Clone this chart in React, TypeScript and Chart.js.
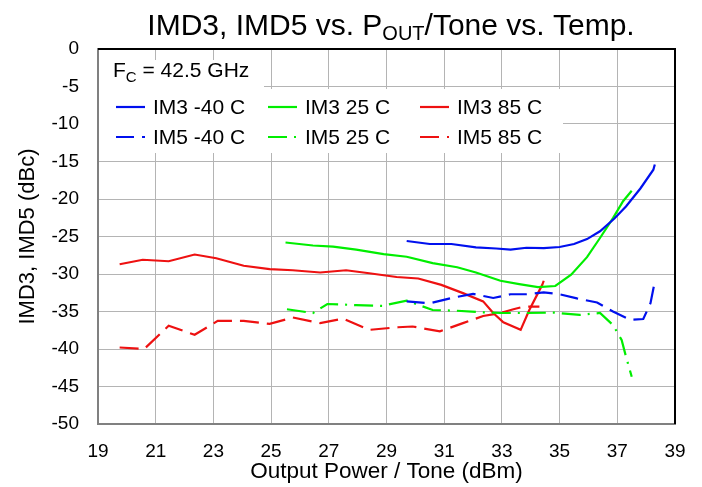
import React, { useEffect, useRef } from 'react';
import { Chart, registerables } from 'chart.js';

Chart.register(...registerables);

const FONT = '"Liberation Sans", Arial, Helvetica, sans-serif';

// ---- data ----
const im3M40X = [29.7, 30.5, 31.25, 32.1, 32.8, 33.3, 33.85, 34.45, 35.0, 35.5, 35.95, 36.4, 36.9, 37.3, 37.8, 38.25, 38.3];
const im3M40Y = [-25.6, -26.0, -26.0, -26.45, -26.6, -26.75, -26.5, -26.55, -26.4, -26.0, -25.35, -24.3, -22.6, -21.0, -18.6, -16.1, -15.4];

const im5M40X = [29.7, 30.5, 31.25, 32.0, 32.7, 33.3, 33.85, 34.45, 35.0, 35.6, 36.3, 36.85, 37.45, 37.9, 38.15, 38.3];
const im5M40Y = [-33.65, -33.9, -33.2, -32.65, -33.2, -32.7, -32.7, -32.45, -32.7, -33.25, -33.8, -35.0, -36.1, -36.0, -33.9, -31.0];

const im3_25X = [25.5, 26.45, 27.15, 27.95, 28.9, 29.7, 30.6, 31.45, 32.1, 32.95, 33.6, 34.25, 34.85, 35.4, 35.95, 36.4, 36.85, 37.2, 37.5];
const im3_25Y = [-25.8, -26.2, -26.35, -26.75, -27.35, -27.7, -28.55, -29.1, -29.8, -30.9, -31.35, -31.75, -31.6, -30.1, -27.75, -25.2, -22.55, -20.3, -18.9];

const im5_25X = [25.55, 26.45, 26.95, 27.95, 28.85, 29.7, 30.6, 31.45, 32.25, 32.95, 33.85, 34.8, 35.7, 36.4, 36.85, 37.15, 37.3, 37.5];
const im5_25Y = [-34.7, -35.2, -34.0, -34.15, -34.25, -33.55, -34.8, -34.9, -35.1, -35.2, -35.2, -35.15, -35.45, -35.2, -36.8, -38.8, -41.0, -43.7];

const im3_85X = [19.75, 20.55, 21.45, 22.35, 23.1, 24.05, 24.95, 25.75, 26.7, 27.6, 28.4, 29.35, 30.1, 30.9, 31.65, 32.35, 32.7, 33.05, 33.65, 33.95, 34.25, 34.4, 34.45];
const im3_85Y = [-28.7, -28.1, -28.3, -27.4, -27.9, -28.9, -29.35, -29.5, -29.8, -29.5, -29.9, -30.4, -30.6, -31.45, -32.55, -33.65, -35.2, -36.45, -37.45, -34.8, -32.55, -31.45, -30.9];

const im5_85X = [19.75, 20.6, 21.45, 22.35, 23.15, 24.05, 24.95, 25.75, 26.7, 27.5, 28.4, 29.4, 29.9, 30.85, 31.65, 32.35, 32.95, 33.4, 33.75, 34.3];
const im5_85Y = [-39.8, -40.0, -36.9, -38.1, -36.25, -36.25, -36.65, -35.8, -36.55, -35.95, -37.45, -37.1, -37.0, -37.65, -36.55, -35.6, -35.2, -34.7, -34.35, -34.35];

const seriesLabels = ['IM3 -40 C', 'IM5 -40 C', 'IM3 25 C', 'IM5 25 C', 'IM3 85 C', 'IM5 85 C'];

const xMin = 19, xMax = 39, xStep = 2;
const yMin = -50, yMax = 0, yStep = 5;

const titleMain = 'IMD3, IMD5 vs. P';
const titleSub = 'OUT';
const titleRest = '/Tone vs. Temp.';
const xTitle = 'Output Power / Tone (dBm)';
const yTitle = 'IMD3, IMD5 (dBc)';
const fcMain = 'F';
const fcSub = 'C';
const fcRest = ' = 42.5 GHz';

const BLUE = '#0010ee';
const GREEN = '#00ee00';
const RED = '#ee1111';

function pts(xs: number[], ys: number[]) {
  return xs.map((x, i) => ({ x, y: ys[i] }));
}

const overlayPlugin = {
  id: 'overlay',
  beforeDatasetsDraw(chart: any) {
    const ctx = chart.ctx;
    const { left } = chart.chartArea;
    ctx.save();
    ctx.fillStyle = '#ffffff';
    // Fc label box
    ctx.fillRect(left + 1, 60, 165, 29);
    // legend box
    ctx.fillRect(left + 1, 89, 464, 64);
    ctx.restore();
  },
  afterDraw(chart: any) {
    const ctx = chart.ctx;
    const { left, top, right, bottom } = chart.chartArea;
    ctx.save();
    // top and right border
    ctx.strokeStyle = '#000';
    ctx.lineWidth = 2;
    ctx.beginPath();
    ctx.moveTo(left, top);
    ctx.lineTo(right, top);
    ctx.lineTo(right, bottom);
    ctx.stroke();

    // title with subscript
    ctx.fillStyle = '#000';
    ctx.textBaseline = 'alphabetic';
    ctx.textAlign = 'left';
    const big = `30px ${FONT}`;
    const small = `20px ${FONT}`;
    ctx.font = big;
    const w1 = ctx.measureText(titleMain).width;
    const w3 = ctx.measureText(titleRest).width;
    ctx.font = small;
    const w2 = ctx.measureText(titleSub).width;
    const total = w1 + w2 + w3;
    let tx = 391 - total / 2;
    const ty = 35;
    ctx.font = big;
    ctx.fillText(titleMain, tx, ty);
    tx += w1;
    ctx.font = small;
    ctx.fillText(titleSub, tx, ty + 5);
    tx += w2;
    ctx.font = big;
    ctx.fillText(titleRest, tx, ty);

    // Fc label
    const lf = `21px ${FONT}`;
    const lfs = `15px ${FONT}`;
    let fx = left + 15;
    const fy = 77;
    ctx.font = lf;
    ctx.fillText(fcMain, fx, fy);
    fx += ctx.measureText(fcMain).width;
    ctx.font = lfs;
    ctx.fillText(fcSub, fx, fy + 5);
    fx += ctx.measureText(fcSub).width;
    ctx.font = lf;
    ctx.fillText(fcRest, fx, fy);

    // legend
    const colX = [left + 18, left + 170, left + 322];
    const rowY = [107, 137];
    const ds = chart.data.datasets;
    ds.forEach((d: any, i: number) => {
      const col = Math.floor(i / 2);
      const row = i % 2;
      const x0 = colX[col];
      const y0 = rowY[row];
      ctx.save();
      ctx.beginPath();
      ctx.rect(x0, y0 - 5, 29, 10);
      ctx.clip();
      ctx.strokeStyle = d.borderColor;
      ctx.lineWidth = 2.2;
      ctx.setLineDash(d.borderDash || []);
      ctx.beginPath();
      ctx.moveTo(x0, y0);
      ctx.lineTo(x0 + 29, y0);
      ctx.stroke();
      ctx.restore();
      ctx.fillStyle = '#000';
      ctx.font = lf;
      ctx.textBaseline = 'middle';
      ctx.fillText(d.label, x0 + 37, y0 + 1);
    });
    ctx.restore();
  },
};

export default function App() {
  const ref = useRef<HTMLCanvasElement | null>(null);

  useEffect(() => {
    if (!ref.current) return;
    const mk = (label: string, data: any, color: string, dash: number[]) => ({
      label,
      data,
      borderColor: color,
      backgroundColor: color,
      borderWidth: 2.2,
      borderDash: dash,
      pointRadius: 0,
      tension: 0,
      fill: false,
    });
    const chart = new Chart(ref.current, {
      type: 'line',
      data: {
        datasets: [
          mk(seriesLabels[0], pts(im3M40X, im3M40Y), BLUE, []),
          mk(seriesLabels[1], pts(im5M40X, im5M40Y), BLUE, [18, 8]),
          mk(seriesLabels[2], pts(im3_25X, im3_25Y), GREEN, []),
          mk(seriesLabels[3], pts(im5_25X, im5_25Y), GREEN, [19, 7, 2, 7]),
          mk(seriesLabels[4], pts(im3_85X, im3_85Y), RED, []),
          mk(seriesLabels[5], pts(im5_85X, im5_85Y), RED, [19, 8]),
        ],
      },
      options: {
        responsive: false,
        animation: false,
        layout: { padding: { left: 0, top: 49, right: 27, bottom: 0 } },
        plugins: {
          legend: { display: false },
          title: { display: false },
          tooltip: { enabled: false },
        },
        scales: {
          x: {
            type: 'linear',
            min: xMin,
            max: xMax,
            afterFit: (s: any) => { s.height = 63; },
            ticks: {
              stepSize: xStep,
              color: '#000',
              font: { family: FONT, size: 19 },
              padding: 16,
              maxRotation: 0,
            },
            grid: { color: '#b4b4b4', lineWidth: 1, drawTicks: false },
            border: { display: true, color: '#808080', width: 2 },
            title: {
              display: true,
              text: xTitle,
              color: '#000',
              font: { family: FONT, size: 22.5 },
              padding: { top: 0, bottom: 2 },
            },
          },
          y: {
            type: 'linear',
            min: yMin,
            max: yMax,
            afterFit: (s: any) => { s.width = 98; },
            ticks: {
              stepSize: yStep,
              color: '#000',
              font: { family: FONT, size: 19 },
              padding: 19,
            },
            grid: { color: '#b4b4b4', lineWidth: 1, drawTicks: false },
            border: { display: true, color: '#808080', width: 2 },
            title: {
              display: true,
              text: yTitle,
              color: '#000',
              font: { family: FONT, size: 22 },
              padding: { top: 15, bottom: 0 },
            },
          },
        },
      } as any,
      plugins: [overlayPlugin],
    });
    return () => chart.destroy();
  }, []);

  return (
    <div style={{ position: 'fixed', left: 0, top: 0, width: 702, height: 487, background: '#fff' }}>
      <canvas ref={ref} width={702} height={487} style={{ display: 'block' }} />
    </div>
  );
}
